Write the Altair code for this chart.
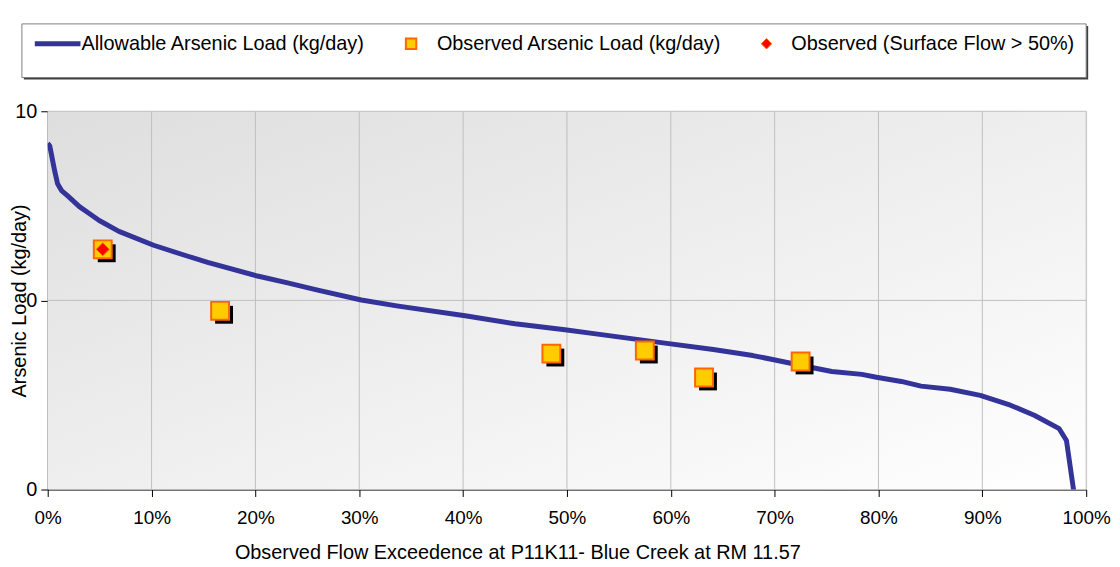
import altair as alt
import pandas as pd

# Allowable load curve (flow exceedance fraction, kg/day)
curve_x = [0.000, 0.002, 0.0067, 0.0095, 0.0133, 0.019, 0.0305, 0.040, 0.0496, 0.0686,
           0.102, 0.135, 0.154, 0.202, 0.231, 0.259, 0.302, 0.336, 0.402, 0.450,
           0.498, 0.526, 0.598, 0.641, 0.679, 0.698, 0.726, 0.755, 0.784, 0.798,
           0.822, 0.841, 0.869, 0.898, 0.927, 0.950, 0.974, 0.981, 0.9895]
curve_y = [4.6, 4.30, 2.34, 1.71, 1.45, 1.28, 0.98, 0.83, 0.70, 0.537,
           0.383, 0.293, 0.253, 0.181, 0.153, 0.129, 0.101, 0.0875, 0.0687, 0.0566,
           0.049, 0.0445, 0.0349, 0.0302, 0.0261, 0.0237, 0.0205, 0.0177, 0.0165, 0.0154,
           0.0139, 0.0124, 0.0115, 0.0099, 0.0078, 0.0061, 0.0044, 0.0033, 0.00074]

obs_x = [0.053, 0.166, 0.485, 0.575, 0.632, 0.725]
obs_y = [0.347, 0.0776, 0.0274, 0.0295, 0.0153, 0.0226]

surf_x = [0.053]
surf_y = [0.347]

x_ticks = [0.0, 0.1, 0.2, 0.3, 0.4, 0.5, 0.6, 0.7, 0.8, 0.9, 1.0]
y_ticks = [0.001, 0.1, 10]

legend_labels = ["Allowable Arsenic Load (kg/day)",
                 "Observed Arsenic Load (kg/day)",
                 "Observed (Surface Flow > 50%)"]

W, H = 1046, 381
FONT = "Liberation Sans"
FS = 20

curve = pd.DataFrame({"x": curve_x, "y": curve_y})
obs = pd.DataFrame({"x": obs_x, "y": obs_y})
surf = pd.DataFrame({"x": surf_x, "y": surf_y})
xgrid = pd.DataFrame({"x": x_ticks[1:]})
ygrid = pd.DataFrame({"y": y_ticks[1:]})

xs = alt.Scale(domain=[0, 1], nice=False, zero=False)
ys = alt.Scale(type="log", domain=[0.001, 10], nice=False)

xaxis = alt.Axis(values=x_ticks, format=".0%", title="Observed Flow Exceedence at P11K11- Blue Creek at RM 11.57",
                 grid=False, domainColor="#000000", tickColor="#000000",
                 tickSize=7, labelFontSize=19, titleFontSize=FS, labelFont=FONT, titleFont=FONT,
                 labelColor="#000", titleColor="#000", titleFontWeight="normal", labelPadding=12,
                 titleX=473, titleAlign="center", titlePadding=15, labelFlush=False)
yaxis = alt.Axis(values=y_ticks, labelExpr="datum.value >= 10 ? '10' : '0'",
                 title="Arsenic Load (kg/day)", grid=False,
                 domainColor="#000000", tickColor="#000000", tickSize=7,
                 labelFontSize=FS, titleFontSize=FS, labelFont=FONT, titleFont=FONT,
                 labelColor="#000", titleColor="#000", titleFontWeight="normal",
                 labelPadding=4, titleX=-28, titleY=H / 2, titleAngle=-90,
                 titleAlign="center", titleBaseline="middle", labelFlush=False)

bg = alt.Chart(pd.DataFrame({"a": [0]})).mark_rect(
    color=alt.LinearGradient(gradient="linear", x1=0, y1=0, x2=1, y2=1,
                             stops=[alt.GradientStop(color="#dedede", offset=0),
                                    alt.GradientStop(color="#ffffff", offset=1)])
).encode(x=alt.value(0), x2=alt.value(W), y=alt.value(0), y2=alt.value(H))

vgrid = alt.Chart(xgrid).mark_rule(color="#c0c0c0", strokeWidth=1).encode(
    x=alt.X("x:Q", scale=xs))
hgrid = alt.Chart(ygrid).mark_rule(color="#c0c0c0", strokeWidth=1).encode(
    y=alt.Y("y:Q", scale=ys))

line = alt.Chart(curve).mark_line(color="#333399", strokeWidth=5, clip=True,
                                  strokeJoin="round").encode(
    x=alt.X("x:Q", scale=xs, axis=xaxis),
    y=alt.Y("y:Q", scale=ys, axis=yaxis),
)

shadow = alt.Chart(obs).mark_square(size=324, color="#000000", opacity=1,
                                    xOffset=4, yOffset=4).encode(
    x=alt.X("x:Q", scale=xs), y=alt.Y("y:Q", scale=ys))
squares = alt.Chart(obs).mark_square(size=324, fill="#FFCC00", stroke="#FF6600",
                                     strokeWidth=2, opacity=1, filled=True).encode(
    x=alt.X("x:Q", scale=xs), y=alt.Y("y:Q", scale=ys))
diamonds = alt.Chart(surf).mark_point(shape="diamond", size=170, fill="#FF0000",
                                      stroke="#FF6600", strokeWidth=1, filled=True,
                                      opacity=1).encode(
    x=alt.X("x:Q", scale=xs), y=alt.Y("y:Q", scale=ys))

# Legend box
one = pd.DataFrame({"a": [0]})
leg_shadow = alt.Chart(one).mark_rect(fill="#404040").encode(
    x=alt.value(-24), x2=alt.value(W + 2), y=alt.value(-86), y2=alt.value(-32))
leg_box = alt.Chart(one).mark_rect(fill="#ffffff", stroke="#808080", strokeWidth=1).encode(
    x=alt.value(-26), x2=alt.value(W), y=alt.value(-88), y2=alt.value(-34))
leg_line = alt.Chart(one).mark_rule(color="#333399", strokeWidth=5).encode(
    x=alt.value(-13), x2=alt.value(33), y=alt.value(-68))
leg_sq = alt.Chart(one).mark_square(size=110, fill="#FFCC00", stroke="#FF6600",
                                    strokeWidth=2, opacity=1).encode(
    x=alt.value(366), y=alt.value(-68))
leg_dm = alt.Chart(one).mark_point(shape="diamond", size=110, fill="#FF0000",
                                   stroke="#FF6600", strokeWidth=1, filled=True,
                                   opacity=1).encode(
    x=alt.value(724), y=alt.value(-68))

def leg_text(i, xpos):
    return alt.Chart(pd.DataFrame({"t": [legend_labels[i]]})).mark_text(
        align="left", baseline="middle", fontSize=FS, font=FONT, color="#000").encode(
        x=alt.value(xpos), y=alt.value(-68), text="t:N")

chart = alt.layer(
    bg, vgrid, hgrid, line, shadow, squares, diamonds,
    leg_shadow, leg_box, leg_line, leg_sq, leg_dm,
    leg_text(0, 34), leg_text(1, 392), leg_text(2, 749),
).properties(
    width=W, height=H,
    autosize=alt.AutoSizeParams(type="none"),
    padding={"left": 40, "top": 102, "right": 26, "bottom": 74},
).configure_view(stroke=None).configure(background="#ffffff")

chart.save("out.html", embed_options={"renderer": "svg", "actions": False})
